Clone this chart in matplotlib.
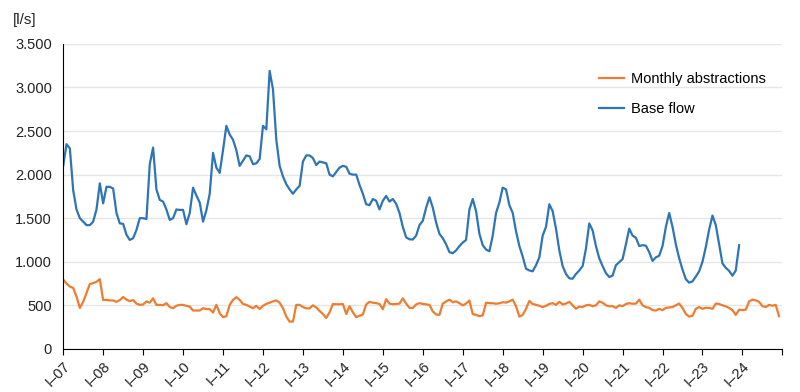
import matplotlib.pyplot as plt
import numpy as np
from matplotlib.ticker import FuncFormatter

# monthly values, Jan 2007 onwards
years = ['I–%02d' % y for y in range(7, 25)]

base_flow = [
    2100, 2350, 2300, 1820, 1600, 1500, 1460, 1420, 1420, 1460, 1600, 1900,  # 2007
    1670, 1860, 1860, 1840, 1560, 1440, 1435, 1310, 1250, 1270, 1365, 1500,  # 2008
    1500, 1490, 2120, 2310, 1830, 1710, 1690, 1600, 1480, 1500, 1600, 1595,  # 2009
    1595, 1430, 1560, 1850, 1760, 1680, 1460, 1590, 1780, 2250, 2080, 2020,  # 2010
    2280, 2560, 2460, 2400, 2280, 2100, 2160, 2220, 2210, 2120, 2130, 2180,  # 2011
    2560, 2520, 3190, 2980, 2400, 2100, 1980, 1890, 1830, 1780, 1830, 1870,  # 2012
    2150, 2220, 2220, 2190, 2110, 2150, 2140, 2130, 2000, 1980, 2030, 2080,  # 2013
    2100, 2090, 2010, 2000, 2000, 1880, 1780, 1660, 1650, 1720, 1700, 1600,  # 2014
    1700, 1755, 1690, 1720, 1665, 1560, 1400, 1280, 1258, 1255, 1300, 1420,  # 2015
    1470, 1620, 1740, 1620, 1450, 1320, 1270, 1200, 1110, 1098, 1130, 1180,  # 2016
    1220, 1250, 1600, 1720, 1580, 1320, 1190, 1140, 1120, 1300, 1560, 1680,  # 2017
    1850, 1830, 1650, 1560, 1350, 1180, 1060, 920, 900, 890, 960, 1050,      # 2018
    1300, 1400, 1660, 1580, 1380, 1130, 950, 860, 810, 805, 860, 900,        # 2019
    950, 1150, 1440, 1360, 1180, 1040, 950, 870, 825, 840, 960, 995,         # 2020
    1030, 1200, 1380, 1300, 1275, 1180, 1190, 1185, 1110, 1010, 1050, 1070,  # 2021
    1180, 1400, 1560, 1400, 1200, 1040, 910, 800, 760, 775, 830, 890,        # 2022
    1000, 1170, 1370, 1530, 1420, 1200, 980, 930, 895, 840, 900, 1190,       # 2023
]

abstractions = [
    795, 750, 715, 700, 600, 470, 540, 640, 745, 755, 770, 800,  # 2007
    560, 562, 556, 556, 540, 560, 595, 565, 548, 560, 520, 505,  # 2008
    510, 545, 530, 580, 505, 505, 500, 525, 480, 467, 495, 505,  # 2009
    505, 494, 486, 440, 440, 440, 467, 457, 457, 417, 505, 409,  # 2010
    364, 375, 505, 562, 593, 562, 516, 505, 486, 467, 494, 457,  # 2011
    494, 516, 531, 545, 556, 531, 467, 371, 313, 313, 505, 505,  # 2012
    480, 465, 465, 500, 475, 435, 400, 355, 420, 515, 512, 512,  # 2013
    515, 400, 490, 420, 365, 380, 395, 510, 540, 530, 525, 515,  # 2014
    455, 570, 520, 512, 515, 520, 580, 520, 470, 470, 510, 525,  # 2015
    516, 510, 505, 430, 395, 390, 520, 545, 565, 535, 545, 525,  # 2016
    500, 520, 555, 400, 390, 375, 385, 530, 525, 524, 518, 524,  # 2017
    535, 531, 545, 565, 490, 370, 390, 460, 550, 515, 505, 495,  # 2018
    480, 494, 516, 524, 505, 540, 510, 520, 540, 500, 460, 485,  # 2019
    480, 500, 505, 490, 500, 545, 530, 500, 488, 490, 470, 500,  # 2020
    490, 515, 524, 518, 520, 565, 500, 480, 470, 445, 440, 460,  # 2021
    445, 470, 475, 480, 500, 520, 470, 400, 370, 380, 460, 480,  # 2022
    460, 472, 470, 460, 520, 515, 500, 488, 470, 445, 390, 450,  # 2023
    445, 450, 545, 565, 556, 540, 490, 480, 505, 495, 505, 375,  # 2024
]

plt.rcParams['font.family'] = ['Liberation Sans', 'DejaVu Sans']

fig = plt.figure(figsize=(8, 3.92), dpi=100)
ax = fig.add_axes([0.079, 0.11, 0.899, 0.778])

ax.plot(np.arange(len(abstractions)), abstractions, color='#ED7D31', lw=1.6,
        label='Monthly abstractions')
ax.plot(np.arange(len(base_flow)), base_flow, color='#2E75B6', lw=1.6,
        label='Base flow')

ax.set_xlim(0, 12 * len(years))
ax.set_ylim(0, 3500)
ax.set_yticks(np.arange(0, 3501, 500))
ax.yaxis.set_major_formatter(FuncFormatter(lambda v, p: '{:,.0f}'.format(v).replace(',', '.')))
ax.set_xticks(np.arange(0, 12 * len(years) + 1, 12))
ax.set_xticklabels(years + [''], rotation=45, ha='right', rotation_mode='anchor')

ax.grid(axis='y', color='#e6e6e6', lw=1)
ax.set_axisbelow(True)
for s in ['top', 'right']:
    ax.spines[s].set_visible(False)
ax.spines['left'].set_color('black')
ax.spines['bottom'].set_color('black')
ax.tick_params(axis='y', length=0, labelsize=10.5, colors='#222222', pad=8)
ax.tick_params(axis='x', length=4, labelsize=10.5, colors='#222222', pad=3)
ax.tick_params(axis='x', color='black')

fig.text(0.016, 0.94, '[l/s]', fontsize=11, color='#222222')

ax.legend(loc='upper right', bbox_to_anchor=(0.995, 0.95), frameon=False,
          fontsize=10.5, handlelength=1.7, labelspacing=1.1, handletextpad=0.5)

fig.savefig('out.png', dpi=100)
